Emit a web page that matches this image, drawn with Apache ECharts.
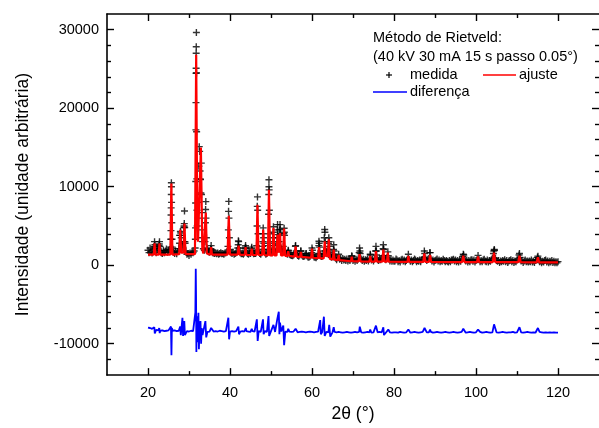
<!DOCTYPE html>
<html>
<head>
<meta charset="utf-8">
<script src="https://cdn.jsdelivr.net/npm/echarts@6/dist/echarts.min.js"></script>
<style>
  html, body { margin: 0; padding: 0; background: #fff; }
  #grafico { width: 599px; height: 428px; }
</style>
</head>
<body>
<div id="grafico"></div>
<script>
// Varredura medida, amostrada a cada 0.25° a partir de 20°
const inicio = 20;
const passo = 0.25;
const medidaFundo = [
  // 20.00 – 31.00
  1900,1600,2200,1750,1550,2000,2300,2100,1600,1950,2150,2700,1850,1600,1500,1900,1600,1800,2050,1650,1850,2000,2300,8000,
  2100,1650,1500,1800,1450,1750,2100,3800,4100,2600,2300,4800,3000,1800,1400,1500,1250,1550,1400,1700,1600,
  // 31.25 – 36.00
  1800,2200,27000,5000,6000,15100,11000,13000,3500,2100,1900,5400,3500,2000,1700,1650,1800,2000,1600,1550,
  // 36.25 – 46.00
  1500,1600,1450,1550,1400,1500,1600,1450,1500,1400,1550,1600,1700,2400,6000,2000,1600,1500,1650,1400,
  1500,1600,1700,2600,2200,1600,1450,1500,1400,1550,2300,1800,1500,1400,1550,1500,2100,1700,1450,1500,
  // 46.25 – 55.00
  1500,2500,7000,2000,1500,1400,1600,3000,2800,1600,1400,1500,2000,10000,3000,1700,1600,3500,
  2800,1700,1800,3500,3000,3000,4600,2000,1700,2400,4200,1800,1500,1400,1800,1400,1300,1250,
  // 55.25 – 65.00
  1200,1300,1600,2500,1500,1250,1150,1300,1800,1300,1150,1100,1200,1450,1200,1050,1000,1100,1300,2200,
  1300,1050,1000,950,1100,1500,2800,1400,1100,1150,1500,3500,3000,1700,1600,2800,2400,1300,1000,1100,
  // 65.25 – 80.00
  2000,1200,900,700,950,1400,750,850,600,850,650,750,600,800,550,750,600,800,1100,600,
  750,500,750,600,800,1600,1500,800,600,750,500,700,600,750,550,800,1300,650,750,550,
  800,1800,1300,700,600,800,700,900,1200,2000,900,700,950,1700,800,550,700,500,650,500,
  // 80.25 – 100.00
  550,800,650,450,600,400,650,750,550,650,450,600,750,1400,700,500,650,450,600,800,
  650,450,600,500,650,450,700,750,1000,1500,800,600,750,850,1600,800,550,650,400,600,
  650,800,550,650,450,600,500,750,600,450,600,500,400,600,450,650,650,750,550,650,
  450,600,400,650,500,750,1100,1300,700,550,650,400,600,450,650,700,500,650,400,600,
  // 100.25 – 120.00
  700,1250,700,450,600,450,650,750,550,450,650,400,600,500,700,900,1500,1900,900,600,
  500,600,350,550,450,600,500,700,450,600,350,550,600,700,450,600,350,550,450,650,
  800,1300,1000,550,600,350,550,650,450,550,400,550,450,650,400,550,350,600,700,1000,
  800,450,550,300,500,400,600,650,400,550,300,500,400,600,350,500,300,450,300,450
];
// Pontos medidos nos flancos e topos dos picos [2θ, intensidade]
const medidaPicos = [
  [21.5,2400],[21.6,3000],[21.7,2600],[22.7,2500],[22.8,3000],[22.9,2400],
  [25.55,3300],[25.6,4400],[25.62,6400],[25.65,7300],[25.68,9000],[25.7,10500],[25.72,10000],[25.8,5400],[25.85,3300],[25.9,2300],
  [27.7,2800],[27.8,3800],[27.9,4300],[28.1,3500],
  [28.7,3000],[28.8,5000],[28.85,5300],[28.9,6900],[28.95,4800],[29.05,2800],
  [31.55,3300],[31.6,4750],[31.62,7930],[31.65,10670],[31.68,17240],[31.7,20710],[31.72,24450],[31.74,25080],[31.77,27830],[31.8,29650],[31.83,24500],[31.86,17000],[31.9,11000],[31.95,7000],
  [32.3,8000],[32.4,12600],[32.6,14500],[32.7,12000],[32.8,10900],[32.9,9200],[33.05,9000],[33.1,6700],[33.2,4500],[33.3,3000],
  [33.9,3000],[34.05,7100],[34.1,8100],[34.15,6000],[34.4,2200],
  [35.3,2100],[35.4,2500],
  [39.6,4500],[39.65,6860],[39.7,8130],[39.85,3500],
  [41.9,2200],[42.05,3100],[42.1,3000],
  [43.7,2100],[43.8,2500],[43.9,2200],[45.3,2300],[45.4,1900],
  [46.6,5000],[46.65,7500],[46.7,8700],[46.85,4000],
  [47.95,2400],[48.05,4000],[48.1,4750],[48.2,3500],[48.35,2000],
  [49.3,2500],[49.4,6500],[49.45,9000],[49.5,10890],[49.55,9600],[49.6,7000],[49.7,4000],[49.85,2200],
  [50.45,2500],[50.55,4200],[50.6,4900],[50.85,2000],
  [51.45,2600],[51.55,4500],[51.6,5170],[51.7,3900],
  [52.1,4500],[52.2,5170],[52.3,4000],[52.45,2200],
  [53.1,4000],[53.2,4700],[53.3,3800],
  [54.1,1600],[54.2,1900],
  [55.95,2400],[56.15,1800],[57.3,1800],[58.6,1500],
  [59.9,1600],[60.1,1900],
  [61.65,2500],[61.7,3050],[61.85,2300],
  [62.9,1800],[63.1,4540],[63.15,4200],[63.4,1800],
  [63.9,2000],[64.1,3500],[64.2,3000],[64.35,1600],
  [65.15,1400],[65.3,2600],[65.4,1800],
  [69.7,1200],[71.6,2200],[71.7,1800],[74.2,1400],
  [75.6,2400],[75.7,1800],[77.35,2100],[77.4,2600],[78.6,1200],
  [87.4,1800],[88.8,1600],[96.9,1400],
  [104.35,1800],[104.45,2000],[110.6,1500],[115.1,1150]
];
// Perfil calculado pelo refinamento [2θ, intensidade]
const ajuste = [
  [20,1350],[21.4,1350],[21.6,2800],[21.8,1350],[22.6,1350],[22.8,2800],[23.0,1350],
  [25.45,1350],[25.7,10400],[25.95,1350],
  [27.6,1400],[27.85,4500],[28.1,1600],[28.65,1600],[28.9,5300],[29.15,1400],
  [31.45,1400],[31.75,26800],[32.05,3500],[32.2,3000],[32.55,9000],[32.9,15000],[33.25,2000],[33.5,1500],
  [33.85,1500],[34.1,6700],[34.35,1500],
  [35.2,1350],[35.4,2300],[35.6,1350],
  [39.4,1350],[39.7,6300],[40.0,1350],
  [41.85,1350],[42.1,2500],[42.35,1350],
  [43.6,1300],[43.8,2300],[44.0,1300],
  [45.1,1300],[45.3,2100],[45.5,1300],
  [46.45,1300],[46.7,7700],[46.95,1300],
  [47.85,1300],[48.1,4540],[48.35,1300],
  [49.25,1250],[49.5,9620],[49.75,1250],
  [50.35,1250],[50.6,4750],[50.85,1250],
  [51.35,1250],[51.6,3900],[51.85,1600],[52.2,4100],[52.45,1250],
  [52.95,1250],[53.2,4660],[53.45,1200],
  [54.0,1200],[54.2,1800],[54.4,1200],
  [55.75,1100],[56.0,2400],[56.25,1100],
  [57.1,1050],[57.3,1700],[57.5,1050],
  [59.8,950],[60.0,2100],[60.2,950],
  [61.5,900],[61.7,2300],[61.9,900],
  [62.85,850],[63.1,3050],[63.35,1200],[63.85,1100],[64.1,3300],[64.35,800],
  [65.1,750],[65.3,2000],[65.5,700],
  [66.3,650],[66.5,1300],[66.7,650],
  [69.5,500],[69.7,1100],[69.9,500],
  [71.35,480],[71.6,1400],[71.85,480],
  [74.0,460],[74.2,1200],[74.4,460],
  [75.35,460],[75.6,1800],[75.85,460],
  [77.15,450],[77.4,2000],[77.65,450],[78.3,450],[78.5,1600],[78.7,450],
  [83.3,420],[83.5,1200],[83.7,420],
  [87.15,420],[87.4,1500],[87.65,420],[88.55,420],[88.8,1300],[89.05,420],
  [96.6,400],[96.9,1200],[97.2,400],
  [100.25,400],[100.5,1100],[100.75,400],
  [104.1,400],[104.4,1600],[104.7,400],
  [110.3,380],[110.6,1200],[110.9,380],
  [114.8,370],[115.1,1000],[115.4,370],
  [120,350]
];
// Diferença (medida - ajuste), deslocada para baixo; passo de 0.5°
const passoDiferenca = 0.5;
const diferencaFundo = [
  -7950,-8000,-8100,-8300,-8250,-8300,-8350,-8300,-8400,-8350,-8300,-8400,-8350,-8300,-8400,-8350,-8450,-8300,-8500,-8400,-8450,-8350,-8400,
  -8400,-8500,-8600,-8500,-8400,-8450,-8500,-8450,-8400,-8450,
  -8400,-8450,-8350,-8400,-8450,-8400,-8350,-8450,-8400,-8450,-8400,-8500,-8450,-8400,-8450,-8400,-8450,-8500,-8400,-8450,
  -8450,-8400,-8500,-8450,-8400,-8500,-8450,-8400,-8450,-8500,-8450,-8400,-8450,-8500,-8450,-8500,-8450,-8500,
  -8450,-8500,-8550,-8500,-8450,-8500,-8550,-8500,-8450,-8500,-8550,-8500,-8450,-8550,-8500,-8450,-8500,-8550,-8500,-8550,
  -8500,-8550,-8500,-8550,-8600,-8550,-8500,-8550,-8600,-8550,-8500,-8550,-8500,-8550,-8600,-8550,-8500,-8550,-8600,-8550,-8500,-8550,-8500,-8550,-8450,-8600,-8500,-8550,-8600,-8550,
  -8550,-8600,-8500,-8550,-8600,-8550,-8500,-8600,-8550,-8500,-8550,-8600,-8550,-8500,-8600,-8550,-8550,-8500,-8600,-8550,-8500,-8550,-8600,-8550,-8500,-8550,-8600,-8550,-8500,-8550,-8600,-8550,-8500,-8550,-8600,-8550,-8500,-8550,-8600,-8550,
  -8550,-8500,-8600,-8550,-8500,-8550,-8600,-8550,-8500,-8550,-8600,-8550,-8500,-8550,-8600,-8550,-8550,-8500,-8600,-8550,-8500,-8550,-8600,-8550,-8500,-8550,-8600,-8550,-8600,-8550,-8500,-8550,-8600,-8550,-8600,-8550,-8600,-8550,-8600,-8600
];
// Desvios nas posições dos picos [2θ, diferença]
const diferencaPicos = [
  [21.55,-7900],[21.65,-8700],[22.75,-8000],[22.85,-8650],
  [25.6,-7800],[25.72,-11470],[25.82,-8000],
  [27.85,-7800],[28.0,-8900],[28.4,-6690],[28.55,-9000],[28.85,-7100],[29.0,-8900],
  [31.55,-6000],[31.65,-460],[31.72,-4000],[31.8,-11050],[31.9,-6500],[32.0,-9800],[32.2,-8200],[32.3,-6050],[32.42,-10700],[32.55,-8000],[32.8,-7120],[32.95,-10000],[33.1,-8000],[33.3,-8900],
  [34.0,-7120],[34.2,-9190],[35.4,-8000],
  [39.6,-6690],[39.78,-9440],
  [42.05,-7830],[42.2,-8800],[43.85,-8000],[45.3,-8100],
  [46.55,-6900],[46.75,-9660],[48.05,-6900],[48.2,-8800],[49.4,-6480],[49.55,-9020],[50.6,-7600],[51.55,-6800],[51.9,-5920],[52.05,-8800],[52.2,-7300],[53.0,-7700],[53.2,-10200],[54.2,-8100],[56.0,-8100],
  [62.0,-7000],[62.15,-8800],[62.9,-6560],[63.1,-9020],[64.2,-7600],[64.45,-9100],[65.3,-7900],
  [71.65,-7830],[74.2,-8200],[75.6,-7700],[77.4,-7900],[77.55,-8900],[78.6,-8200],
  [83.5,-8200],[87.45,-8000],[88.8,-8200],[96.9,-8100],[100.5,-8200],[104.4,-7540],[110.6,-7900],[115.1,-8000]
];

const ticksX = [20, 40, 60, 80, 100, 120];
const ticksXmenores = [30, 50, 70, 90, 110];
const ticksY = [-10000, 0, 10000, 20000, 30000];
const ticksYmenores = [-12000, -8000, -6000, -4000, -2000, 2000, 4000, 6000, 8000,
  12000, 14000, 16000, 18000, 22000, 24000, 26000, 28000];

const fonte = '"Liberation Sans", Arial, Helvetica, sans-serif';

// Montagem das séries
const pontosMedida = medidaFundo.map((v, i) => [inicio + i * passo, v]).concat(medidaPicos);
const pontosDiferenca = diferencaFundo
  .map((v, i) => [inicio + i * passoDiferenca, v])
  .filter(p => diferencaPicos.every(q => Math.abs(q[0] - p[0]) > 0.12))
  .concat(diferencaPicos)
  .sort((a, b) => a[0] - b[0]);

function eixo(tipo, posicao, valores, comprimento, comLinha, comRotulo) {
  return {
    type: 'value',
    position: posicao,
    min: tipo === 'x' ? 10 : -14000,
    max: tipo === 'x' ? 130 : 32000,
    splitLine: { show: false },
    axisLine: { show: comLinha, onZero: false, lineStyle: { color: '#000', width: 1.6 } },
    axisTick: { show: true, inside: true, length: comprimento, customValues: valores,
                lineStyle: { color: '#000', width: 1.4 } },
    axisLabel: { show: comRotulo, customValues: valores, color: '#000', fontSize: 14.5,
                 fontFamily: fonte, margin: tipo === 'x' ? 10 : 8,
                 formatter: v => String(v) }
  };
}

const eixoXprincipal = eixo('x', 'bottom', ticksX, 7, true, true);
eixoXprincipal.name = '2θ (°)';
eixoXprincipal.nameLocation = 'middle';
eixoXprincipal.nameGap = 28;
eixoXprincipal.nameTextStyle = { color: '#000', fontSize: 17.5, fontFamily: fonte };

const eixoYprincipal = eixo('y', 'left', ticksY, 7, true, true);
eixoYprincipal.name = 'Intensidade (unidade arbitrária)';
eixoYprincipal.nameLocation = 'middle';
eixoYprincipal.nameRotate = 90;
eixoYprincipal.nameGap = 75;
eixoYprincipal.nameTextStyle = { color: '#000', fontSize: 17.5, fontFamily: fonte };

const grafico = echarts.init(document.getElementById('grafico'), null, { renderer: 'canvas' });

const textoLegenda = (t, x, y) => ({
  type: 'text', x: x, y: y,
  style: { text: t, fill: '#000', font: '14.5px ' + fonte, verticalAlign: 'middle', align: 'left' }
});
const tracoLegenda = (x1, y1, x2, y2, cor, largura) => ({
  type: 'line', shape: { x1: x1, y1: y1, x2: x2, y2: y2 },
  style: { stroke: cor, lineWidth: largura }
});

grafico.setOption({
  animation: false,
  backgroundColor: '#fff',
  grid: { left: 107, top: 14, width: 494, height: 362 },
  xAxis: [
    eixoXprincipal,
    eixo('x', 'bottom', ticksXmenores, 4, false, false),
    eixo('x', 'top', ticksX, 7, true, false),
    eixo('x', 'top', ticksXmenores, 4, false, false)
  ],
  yAxis: [
    eixoYprincipal,
    eixo('y', 'left', ticksYmenores, 4, false, false),
    eixo('y', 'right', ticksY, 7, false, false),
    eixo('y', 'right', ticksYmenores, 4, false, false)
  ],
  series: [
    {
      name: 'medida', type: 'scatter', xAxisIndex: 0, yAxisIndex: 0,
      data: pontosMedida,
      symbol: 'path://M4,0H6V4H10V6H6V10H4V6H0V4H4Z',
      symbolSize: 7,
      itemStyle: { color: '#000' },
      z: 2
    },
    {
      name: 'ajuste', type: 'line', xAxisIndex: 0, yAxisIndex: 0,
      data: ajuste, showSymbol: false, symbol: 'none',
      lineStyle: { color: '#ff0000', width: 2.2 },
      z: 3
    },
    {
      name: 'diferença', type: 'line', xAxisIndex: 0, yAxisIndex: 0,
      data: pontosDiferenca, showSymbol: false, symbol: 'none',
      lineStyle: { color: '#0000ff', width: 1.8 },
      z: 3
    }
  ],
  graphic: [
    textoLegenda('Método de Rietveld:', 373, 38),
    textoLegenda('(40 kV 30 mA 15 s passo 0.05°)', 373, 57),
    tracoLegenda(386, 75, 392, 75, '#000', 1.2),
    tracoLegenda(389, 72, 389, 78, '#000', 1.2),
    textoLegenda('medida', 410, 75),
    tracoLegenda(483, 75, 516, 75, '#ff0000', 1.5),
    textoLegenda('ajuste', 519, 75),
    tracoLegenda(373, 92, 407, 92, '#0000ff', 1.5),
    textoLegenda('diferença', 410, 92)
  ]
});
</script>
</body>
</html>
